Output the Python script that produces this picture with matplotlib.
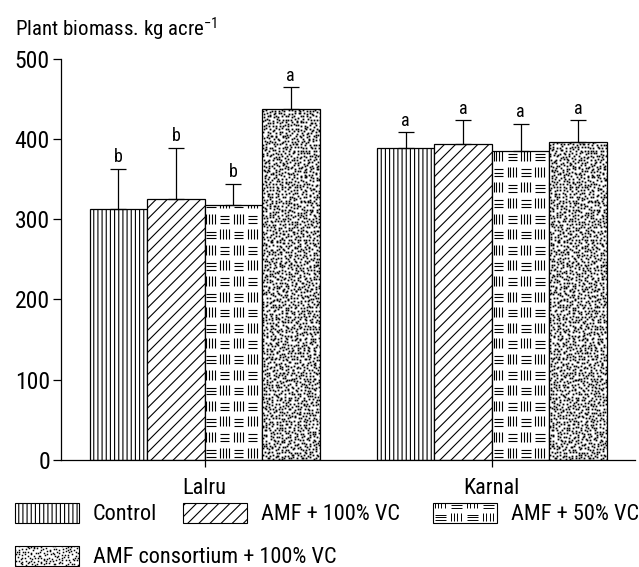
import numpy as np
import matplotlib
matplotlib.use("Agg")
import matplotlib.pyplot as plt
from matplotlib import font_manager
from matplotlib.patches import Rectangle, Patch
from matplotlib.collections import LineCollection
from matplotlib.lines import Line2D

# pick a condensed family if one is installed
names = {f.name for f in font_manager.fontManager.ttflist}
pick = [n for n in ['Roboto Condensed', 'Open Sans Condensed', 'Liberation Sans Narrow']
        if n in names]
plt.rcParams['font.family'] = pick[:1] + ['DejaVu Sans']
if pick:
    plt.rcParams['mathtext.fontset'] = 'custom'
    plt.rcParams['mathtext.rm'] = pick[0]
    plt.rcParams['mathtext.default'] = 'rm'
plt.rcParams['hatch.linewidth'] = 0.8

sites = ['Lalru', 'Karnal']
treatments = ['Control', 'AMF + 100% VC', 'AMF + 50% VC', 'AMF consortium + 100% VC']
means = {
    'Control': [313, 389],
    'AMF + 100% VC': [325, 393],
    'AMF + 50% VC': [317, 385],
    'AMF consortium + 100% VC': [437, 396],
}
errors = {
    'Control': [50, 19],
    'AMF + 100% VC': [64, 30],
    'AMF + 50% VC': [27, 34],
    'AMF consortium + 100% VC': [27, 27],
}
letters = {
    'Control': ['b', 'a'],
    'AMF + 100% VC': ['b', 'a'],
    'AMF + 50% VC': ['b', 'a'],
    'AMF consortium + 100% VC': ['a', 'a'],
}
# 'woven' and 'stipple' are drawn by hand below
hatches = ['||||', '///', 'woven', 'stipple']


def block_lines(x0, y0, w, h, bw, bh):
    # blocks of horizontal lines next to blocks of vertical lines
    segs = []
    nr = int(np.ceil(h / bh)) + 1
    nc = int(np.ceil(w / bw)) + 1
    for r in range(nr):
        for c in range(nc):
            bx = x0 + c * bw
            by = y0 + r * bh
            if (r + c) % 2 == 0:
                for k in range(3):
                    yy = by + bh * (0.2 + 0.22 * k)
                    segs.append([(bx + bw * 0.12, yy), (bx + bw * 0.78, yy)])
            else:
                for k in range(4):
                    xx = bx + bw * (0.12 + 0.2 * k)
                    segs.append([(xx, by + bh * 0.15), (xx, by + bh * 0.8)])
    return segs


def stipple_xy(x0, y0, w, h, cw, ch):
    # one dot per grid cell, shifted inside the cell by a fixed hash (texture only)
    nc = int(np.ceil(w / cw))
    nr = int(np.ceil(h / ch))
    ii, jj = np.meshgrid(np.arange(nc), np.arange(nr))
    ii = ii.ravel().astype(float)
    jj = jj.ravel().astype(float)
    u = np.abs(np.sin(ii * 12.9898 + jj * 78.233) * 43758.5453) % 1
    v = np.abs(np.sin(ii * 39.3468 + jj * 11.135) * 24634.6345) % 1
    return x0 + (ii + 0.1 + 0.8 * u) * cw, y0 + (jj + 0.1 + 0.8 * v) * ch


class FillHandler:
    def __init__(self, kind):
        self.kind = kind

    def legend_artist(self, legend, orig_handle, fontsize, handlebox):
        x0, y0 = -handlebox.xdescent, -handlebox.ydescent
        w, h = handlebox.width, handlebox.height
        tr = handlebox.get_transform()
        rect = Rectangle((x0, y0), w, h, facecolor='white', edgecolor='black',
                         lw=0.8, transform=tr)
        handlebox.add_artist(rect)
        if self.kind == 'woven':
            art = LineCollection(block_lines(x0, y0, w, h, w / 4, h * 0.62),
                                 colors='black', linewidths=0.7, transform=tr)
        else:
            xs, ys = stipple_xy(x0, y0, w, h, 2.2, 2.2)
            art = Line2D(xs, ys, ls='none', marker='s', ms=1.1, mew=0,
                         color='black', transform=tr)
        handlebox.add_artist(art)
        art.set_clip_path(rect)
        return rect


fig = plt.figure(figsize=(6.39, 5.67), dpi=100)
ax = fig.add_axes([0.0955, 0.1887, 0.899, 0.708])

x = np.arange(len(sites))
width = 0.2
offsets = (np.arange(len(treatments)) - 1.5) * width
px_x = 288.0    # pixels per x unit
px_y = 0.808    # pixels per y unit

for i, t in enumerate(treatments):
    xs = x + offsets[i]
    hatch = hatches[i] if hatches[i] not in ('woven', 'stipple') else None
    bars = ax.bar(xs, means[t], width, color='white', edgecolor='black',
                  linewidth=0.9, hatch=hatch, zorder=2)
    ax.errorbar(xs, means[t], yerr=[[0] * len(sites), errors[t]], fmt='none',
                ecolor='black', elinewidth=0.9, capsize=6, capthick=0.9, zorder=3)
    for xi, m, e, lab in zip(xs, means[t], errors[t], letters[t]):
        ax.text(xi, m + e + 3, lab, ha='center', va='bottom', fontsize=13)
    for b in bars:
        if hatches[i] == 'woven':
            segs = block_lines(b.get_x(), 0, b.get_width(), b.get_height(),
                               14 / px_x, 15.7 / px_y)
            art = LineCollection(segs, colors='black', linewidths=0.8, zorder=2.5)
            ax.add_collection(art)
            art.set_clip_path(b)
        elif hatches[i] == 'stipple':
            sx, sy = stipple_xy(b.get_x(), 0, b.get_width(), b.get_height(),
                                3.1 / px_x, 3.1 / px_y)
            art, = ax.plot(sx, sy, ls='none', marker='s', ms=1.3, mew=0,
                           color='black', zorder=2.5)
            art.set_clip_path(b)

ax.set_xlim(-0.5, 1.5)
ax.set_ylim(0, 500)
ax.set_yticks([0, 100, 200, 300, 400, 500])
ax.set_xticks(x)
ax.set_xticklabels(sites)
ax.tick_params(axis='y', labelsize=17, length=6, width=0.9, direction='out', pad=2)
ax.tick_params(axis='x', labelsize=16, length=5, width=0.9, direction='out', pad=8)
ax.spines['top'].set_visible(False)
ax.spines['right'].set_visible(False)
ax.spines['left'].set_linewidth(0.9)
ax.spines['bottom'].set_linewidth(0.9)

fig.text(0.023, 0.948, 'Plant biomass. kg acre$^{-1}$', fontsize=15, va='center')

# legend entries placed one by one (left edge px, centre y px)
spots = [(15, 514), (183, 514), (433, 514), (15, 557)]
for i, t in enumerate(treatments):
    if hatches[i] in ('woven', 'stipple'):
        h = Patch(facecolor='white', edgecolor='black', lw=0.8)
        hm = {h: FillHandler(hatches[i])}
    else:
        h = Patch(facecolor='white', edgecolor='black', hatch=hatches[i], lw=0.8)
        hm = None
    fig.legend([h], [t], loc='center left',
               bbox_to_anchor=(spots[i][0] / 639, 1 - spots[i][1] / 567),
               frameon=False, fontsize=16, handlelength=2.9, handleheight=1.0,
               handletextpad=0.6, borderpad=0, borderaxespad=0,
               handler_map=hm)

fig.savefig('out.png', dpi=100)
